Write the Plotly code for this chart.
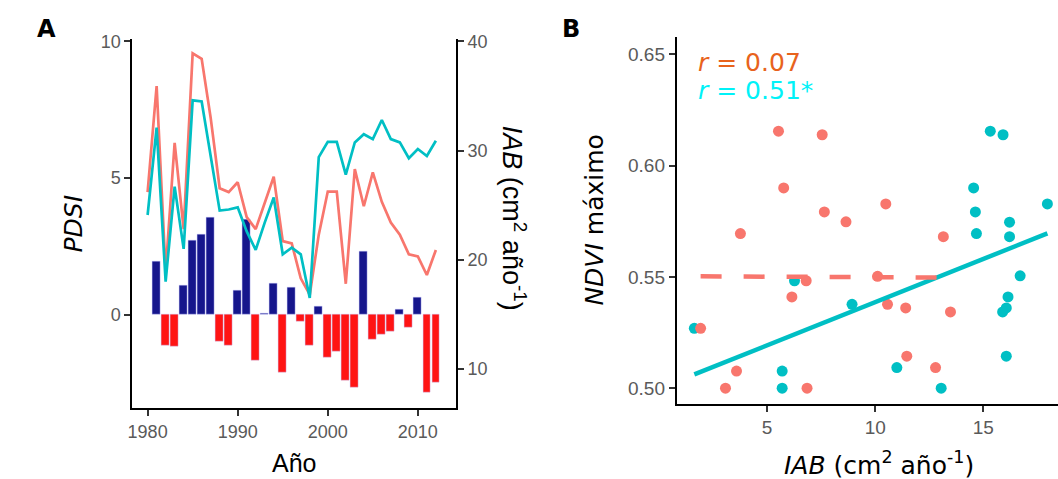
import plotly.graph_objects as go

# ---------------- Panel A data ----------------
years = list(range(1980, 2013))
pdsi = [None, 1.94, -1.11, -1.17, 1.07, 2.72, 2.94, 3.55, -0.96, -1.14, 0.90, 3.48,
        -1.68, 0.06, 1.16, -2.10, 1.01, -0.24, -1.12, 0.30, -1.56, -1.33, -2.40,
        -2.67, 2.30, -0.90, -0.72, -0.60, 0.20, -0.47, 0.62, -2.83, -2.47]
iab_pink = [26.2, 35.9, 18.9, 30.7, 22.8, 38.9, 38.4, 33.0, 26.55, 26.2, 27.1, 23.9,
            22.8, 25.1, 27.6, 21.7, 21.5, 18.3, 16.8, 22.3, 26.25, 26.25, 17.8,
            28.3, 24.9, 28.0, 25.3, 23.4, 22.3, 20.5, 20.3, 18.6, 20.9]
iab_teal = [24.1, 32.1, 18.0, 26.7, 21.0, 34.6, 34.5, 29.4, 24.5, 24.6, 24.8, 22.6,
            20.9, 23.4, 25.7, 20.5, 21.1, 20.5, 16.5, 29.4, 30.8, 30.8, 27.8,
            30.75, 31.5, 31.05, 32.8, 31.05, 30.75, 29.3, 30.15, 29.5, 30.9]
x_ticks_a = [1980, 1990, 2000, 2010]
pdsi_ticks = [0, 5, 10]
iab_ticks = [10, 20, 30, 40]

# ---------------- Panel B data ----------------
ndvi_pink = [0.6155, 0.6139, 0.590, 0.5828, 0.5792, 0.5748, 0.5695, 0.5681, 0.5503, 0.5483,
             0.5410, 0.5377, 0.5361, 0.5343, 0.5269, 0.5144, 0.5093, 0.5077, 0.500, 0.500]
iab_b_pink = [5.53, 7.55, 5.77, 10.49, 7.65, 8.65, 3.77, 13.15, 10.11, 6.81,
              6.15, 10.57, 11.41, 13.48, 1.93, 11.46, 12.79, 3.59, 3.08, 6.85]
ndvi_teal = [0.6155, 0.6139, 0.590, 0.5828, 0.5792, 0.5746, 0.5695, 0.5681, 0.5505, 0.5483,
             0.5410, 0.5377, 0.5361, 0.5343, 0.5269, 0.5144, 0.5093, 0.5077, 0.500, 0.500]
iab_b_teal = [15.32, 15.91, 14.55, 17.96, 14.63, 16.21, 14.68, 16.21, 16.70, 6.27,
              16.14, 8.93, 16.06, 15.89, 1.64, 16.06, 11.0, 5.70, 5.70, 13.05]
fit_pink_x = [1.93, 13.48]
fit_pink_y = [0.5503, 0.5497]
fit_teal_x = [1.64, 17.96]
fit_teal_y = [0.5062, 0.5696]
ndvi_ticks = [0.50, 0.55, 0.60, 0.65]
iab_b_ticks = [5, 10, 15]

PINK = "#F8766D"
TEAL = "#00BFC4"
NAVY = "#16168C"
RED = "#FF1414"
W, H = 1058, 479

fig = go.Figure()

bar_colors = [NAVY if (v is not None and v >= 0) else RED for v in pdsi]
fig.add_trace(go.Bar(x=years, y=pdsi, marker=dict(color=bar_colors, line=dict(width=0.6, color="rgba(200,200,255,0.7)")),
                     width=0.88, xaxis="x", yaxis="y", showlegend=False))
fig.add_trace(go.Scatter(x=years, y=iab_pink, mode="lines", line=dict(color=PINK, width=2.7),
                         xaxis="x", yaxis="y2", showlegend=False))
fig.add_trace(go.Scatter(x=years, y=iab_teal, mode="lines", line=dict(color=TEAL, width=2.7),
                         xaxis="x", yaxis="y2", showlegend=False))

# Panel B
fig.add_trace(go.Scatter(x=iab_b_teal, y=ndvi_teal, mode="markers", marker=dict(color=TEAL, size=11),
                         xaxis="x2", yaxis="y3", showlegend=False))
fig.add_trace(go.Scatter(x=iab_b_pink, y=ndvi_pink, mode="markers", marker=dict(color=PINK, size=11),
                         xaxis="x2", yaxis="y3", showlegend=False))
fig.add_trace(go.Scatter(x=fit_teal_x, y=fit_teal_y, mode="lines", line=dict(color=TEAL, width=4.5),
                         xaxis="x2", yaxis="y3", showlegend=False))
fig.add_trace(go.Scatter(x=fit_pink_x, y=fit_pink_y, mode="lines",
                         line=dict(color=PINK, width=4.5, dash="21px,22px"),
                         xaxis="x2", yaxis="y3", showlegend=False))

tickfont_a = dict(family="Liberation Sans, Arial", size=18, color="#5A5A5A")
tickfont_b = dict(family="Liberation Sans, Arial", size=19, color="#5A5A5A")
axis_common = dict(showline=True, linecolor="black", linewidth=2, ticks="outside", ticklen=6,
                   tickwidth=1.5, tickcolor="#333333", showgrid=False, zeroline=False, mirror=False)

fig.update_layout(
    width=W, height=H, margin=dict(l=0, r=0, t=0, b=0),
    paper_bgcolor="white", plot_bgcolor="white", bargap=0,
    xaxis=dict(domain=[128 / W, 453 / W], range=[1978.31, 2014.22], tickvals=x_ticks_a,
               anchor="y", tickfont=tickfont_a, **axis_common),
    yaxis=dict(domain=[1 - 407 / H, 1 - 32 / H], range=[-3.42, 10.07], tickvals=pdsi_ticks,
               anchor="x", tickfont=tickfont_a, **axis_common),
    yaxis2=dict(overlaying="y", side="right", anchor="x", range=[6.4, 40.18], tickvals=iab_ticks,
                tickfont=tickfont_a, **axis_common),
    xaxis2=dict(domain=[675 / W, 1.0], range=[0.83, 18.45], tickvals=iab_b_ticks, anchor="y3",
                tickfont=tickfont_b, **axis_common),
    yaxis3=dict(domain=[1 - 402.3 / H, 1 - 30 / H], range=[0.4931, 0.6576], tickvals=ndvi_ticks,
                tickformat=".2f", anchor="x2", tickfont=tickfont_b, **axis_common),
)


def ann(text, px, py, size, family="Liberation Sans, Arial", color="black", angle=0, xanchor="center"):
    fig.add_annotation(text=text, x=px / W, y=1 - py / H, xref="paper", yref="paper",
                       showarrow=False, textangle=angle, xanchor=xanchor, yanchor="middle",
                       font=dict(family=family, size=size, color=color))


ann("<b>A</b>", 42, 21, 24, family="DejaVu Sans")
ann("<b>B</b>", 569, 21, 24, family="DejaVu Sans")
ann("Año", 290.5, 463, 25)
ann("<i>PDSI</i>", 69, 219.5, 25, family="DejaVu Sans", angle=-90)
ann("<i>IAB</i> (cm<sup>2</sup> año<sup>-1</sup>)", 511, 214, 27, angle=90)
ann("<i>NDVI</i> máximo", 592, 216, 25, family="DejaVu Sans", angle=-90)
ann("<i>IAB</i> (cm<sup>2</sup> año<sup>-1</sup>)", 878, 463, 25, family="DejaVu Sans")
ann("<i>r</i> = 0.07", 694, 55, 25, family="DejaVu Sans", color="#E8631C", xanchor="left")
ann("<i>r</i> = 0.51*", 694, 84, 25, family="DejaVu Sans", color="#00F2F8", xanchor="left")

fig.write_html("out.html", config={"displayModeBar": False},
               post_script="document.body.style.margin='0';document.body.style.overflow='hidden';")
